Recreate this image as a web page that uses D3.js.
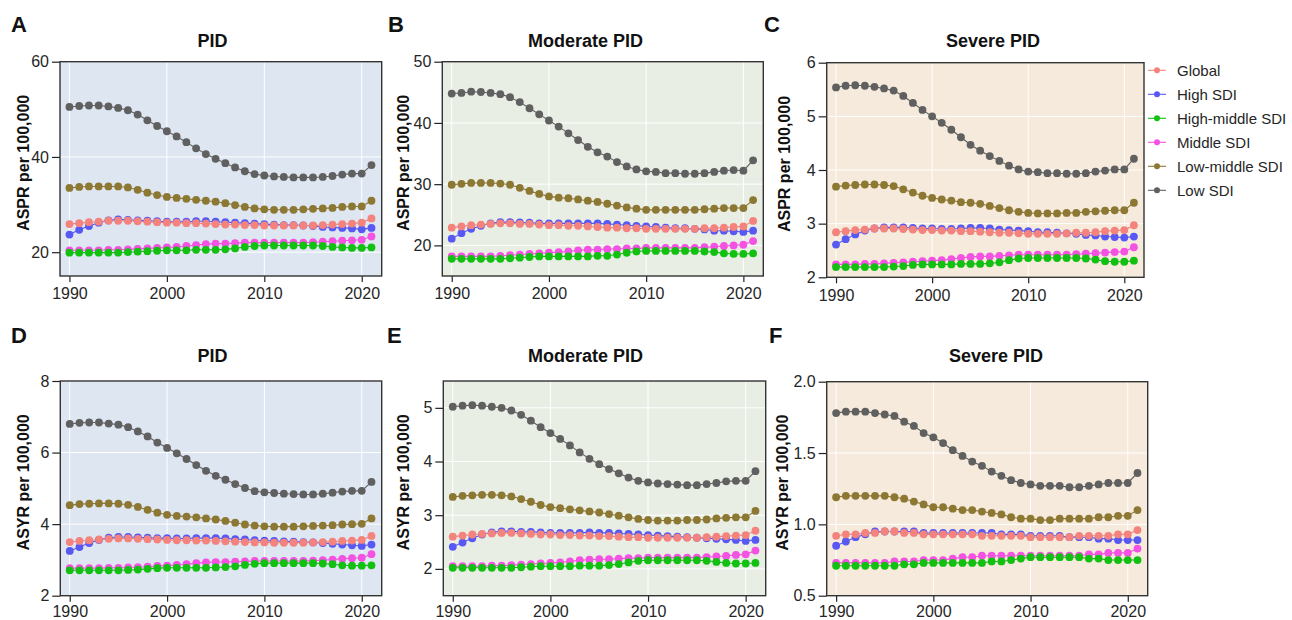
<!DOCTYPE html>
<html>
<head>
<meta charset="utf-8">
<script src="https://cdn.jsdelivr.net/npm/d3@7"></script>
<style>
html,body{margin:0;padding:0;background:#fff;}
svg{display:block;font-family:"Liberation Sans",Arial,sans-serif;}
</style>
</head>
<body>
<svg id="chart" width="1292" height="620"></svg>
<script>
const years = [1990,1991,1992,1993,1994,1995,1996,1997,1998,1999,2000,2001,2002,2003,2004,2005,2006,2007,2008,2009,2010,2011,2012,2013,2014,2015,2016,2017,2018,2019,2020,2021];
const seriesNames = ["Global","High SDI","High-middle SDI","Middle SDI","Low-middle SDI","Low SDI"];
const seriesColors = ["#f4837d","#5858f2","#12c012","#f352e2","#8c7833","#606060"];

// Panel A: ASPR, PID
const A_global = [25.9,26.1,26.3,26.4,26.6,26.6,26.6,26.5,26.4,26.3,26.2,26.2,26.1,26.1,26.0,25.9,25.8,25.8,25.7,25.7,25.6,25.6,25.6,25.6,25.6,25.6,25.7,25.8,25.9,26.0,26.2,27.1];
const A_high = [23.7,24.7,25.5,26.2,26.7,26.9,26.8,26.7,26.6,26.5,26.4,26.4,26.4,26.5,26.5,26.4,26.3,26.2,26.1,26.0,25.9,25.8,25.7,25.7,25.6,25.5,25.3,25.2,25.1,25.0,24.8,25.1];
const A_highmid = [19.9,19.9,19.9,19.9,19.9,19.9,20.0,20.1,20.2,20.3,20.4,20.4,20.4,20.5,20.5,20.5,20.6,20.8,21.1,21.3,21.4,21.4,21.4,21.4,21.4,21.4,21.3,21.1,21.0,20.9,20.9,21.0];
const A_middle = [20.4,20.4,20.4,20.4,20.5,20.5,20.6,20.7,20.8,20.9,21.0,21.1,21.3,21.5,21.7,21.8,21.8,21.9,22.0,22.0,22.0,22.0,22.0,22.0,22.0,22.1,22.2,22.3,22.4,22.5,22.6,23.3];
const A_lowmid = [33.5,33.7,33.8,33.8,33.8,33.8,33.6,33.1,32.5,32.0,31.6,31.4,31.2,31.0,30.8,30.6,30.3,29.9,29.5,29.2,29.0,28.9,28.9,28.9,29.0,29.1,29.2,29.3,29.5,29.6,29.6,30.8];
const A_low = [50.5,50.7,50.8,50.8,50.6,50.3,49.8,48.9,47.7,46.5,45.4,44.3,43.1,41.8,40.6,39.6,38.7,37.8,37.0,36.4,36.1,35.9,35.8,35.7,35.7,35.7,35.8,36.0,36.3,36.5,36.5,38.3];

// Panel B: ASPR, Moderate PID
const B_global = [22.9,23.1,23.3,23.4,23.5,23.6,23.6,23.5,23.5,23.4,23.3,23.3,23.2,23.2,23.1,23.0,22.9,22.9,22.8,22.8,22.7,22.7,22.7,22.7,22.7,22.7,22.8,22.8,22.9,23.0,23.1,24.0];
const B_high = [21.1,22.0,22.7,23.2,23.6,23.8,23.8,23.75,23.7,23.6,23.6,23.6,23.6,23.6,23.6,23.6,23.5,23.4,23.3,23.2,23.1,23.0,22.9,22.8,22.8,22.7,22.6,22.4,22.4,22.3,22.2,22.4];
const B_highmid = [17.8,17.8,17.8,17.8,17.8,17.8,17.9,18.0,18.1,18.2,18.2,18.2,18.2,18.2,18.2,18.3,18.3,18.5,18.8,19.0,19.1,19.1,19.1,19.1,19.1,19.1,19.0,18.9,18.7,18.6,18.6,18.7];
const B_middle = [18.2,18.2,18.2,18.2,18.2,18.3,18.4,18.5,18.6,18.7,18.8,18.9,19.0,19.2,19.3,19.3,19.4,19.4,19.5,19.5,19.6,19.6,19.6,19.6,19.6,19.6,19.7,19.8,19.9,20.0,20.1,20.7];
const B_lowmid = [29.9,30.05,30.2,30.2,30.2,30.1,29.9,29.4,28.9,28.4,28.0,27.8,27.7,27.5,27.3,27.1,26.8,26.5,26.2,26.0,25.8,25.8,25.8,25.8,25.8,25.8,25.9,26.0,26.1,26.1,26.1,27.4];
const B_low = [44.8,44.9,45.1,45.05,44.9,44.7,44.2,43.4,42.4,41.4,40.4,39.4,38.3,37.2,36.1,35.2,34.5,33.6,32.9,32.4,32.1,32.0,31.8,31.8,31.7,31.7,31.8,32.0,32.2,32.3,32.2,33.9];

// Panel C: ASPR, Severe PID
const C_global = [2.84,2.86,2.88,2.89,2.91,2.91,2.91,2.90,2.89,2.88,2.88,2.87,2.87,2.86,2.86,2.85,2.84,2.83,2.83,2.82,2.81,2.81,2.81,2.81,2.82,2.83,2.83,2.84,2.86,2.87,2.88,2.97];
const C_high = [2.61,2.71,2.80,2.87,2.91,2.93,2.93,2.93,2.92,2.91,2.91,2.90,2.90,2.91,2.92,2.92,2.91,2.89,2.88,2.87,2.86,2.84,2.84,2.83,2.82,2.81,2.79,2.78,2.76,2.75,2.74,2.76];
const C_highmid = [2.19,2.19,2.19,2.19,2.19,2.19,2.20,2.21,2.23,2.24,2.24,2.24,2.24,2.25,2.25,2.25,2.26,2.28,2.32,2.35,2.36,2.36,2.36,2.36,2.36,2.36,2.35,2.33,2.30,2.29,2.29,2.31];
const C_middle = [2.24,2.24,2.24,2.25,2.25,2.26,2.27,2.28,2.29,2.30,2.31,2.32,2.34,2.36,2.38,2.39,2.39,2.40,2.41,2.42,2.42,2.42,2.42,2.42,2.42,2.43,2.44,2.45,2.46,2.47,2.48,2.56];
const C_lowmid = [3.69,3.71,3.72,3.73,3.73,3.72,3.70,3.64,3.58,3.52,3.48,3.45,3.43,3.40,3.39,3.37,3.33,3.29,3.25,3.22,3.20,3.19,3.19,3.19,3.20,3.20,3.22,3.23,3.24,3.25,3.25,3.39];
const C_low = [5.54,5.57,5.58,5.57,5.55,5.52,5.48,5.38,5.25,5.12,5.00,4.88,4.75,4.61,4.47,4.36,4.26,4.17,4.08,4.01,3.97,3.96,3.94,3.94,3.93,3.93,3.94,3.97,3.99,4.01,4.01,4.21];

// Panel D: ASYR, PID
const D_global = [3.50,3.53,3.55,3.57,3.59,3.60,3.60,3.59,3.58,3.57,3.56,3.55,3.55,3.54,3.54,3.53,3.52,3.51,3.50,3.49,3.49,3.48,3.48,3.48,3.48,3.49,3.50,3.51,3.53,3.54,3.56,3.67];
const D_high = [3.25,3.36,3.47,3.56,3.62,3.64,3.64,3.63,3.62,3.61,3.61,3.60,3.60,3.61,3.61,3.61,3.60,3.58,3.57,3.55,3.54,3.53,3.52,3.51,3.50,3.49,3.47,3.45,3.43,3.41,3.39,3.43];
const D_highmid = [2.71,2.71,2.71,2.71,2.71,2.71,2.72,2.73,2.75,2.77,2.78,2.78,2.78,2.78,2.78,2.79,2.80,2.82,2.86,2.89,2.91,2.91,2.91,2.91,2.91,2.91,2.90,2.88,2.85,2.84,2.84,2.85];
const D_middle = [2.77,2.77,2.77,2.77,2.78,2.78,2.79,2.80,2.81,2.83,2.84,2.86,2.88,2.91,2.93,2.94,2.94,2.95,2.96,2.97,2.97,2.97,2.97,2.97,2.97,2.98,2.99,3.01,3.03,3.05,3.06,3.16];
const D_lowmid = [4.53,4.56,4.57,4.58,4.58,4.57,4.54,4.48,4.40,4.32,4.26,4.23,4.21,4.19,4.16,4.13,4.09,4.04,3.99,3.96,3.94,3.93,3.93,3.93,3.94,3.95,3.96,3.97,3.99,4.00,4.01,4.16];
const D_low = [6.80,6.83,6.84,6.84,6.81,6.78,6.71,6.59,6.45,6.28,6.13,5.98,5.82,5.65,5.49,5.35,5.24,5.12,5.01,4.92,4.89,4.87,4.85,4.84,4.83,4.83,4.85,4.88,4.91,4.93,4.93,5.18];

// Panel E: ASYR, Moderate PID
const E_global = [2.60,2.62,2.64,2.65,2.66,2.67,2.67,2.66,2.65,2.64,2.64,2.63,2.63,2.62,2.62,2.61,2.61,2.60,2.59,2.59,2.58,2.58,2.58,2.58,2.58,2.58,2.59,2.60,2.61,2.62,2.63,2.71];
const E_high = [2.41,2.49,2.57,2.64,2.68,2.70,2.70,2.69,2.69,2.68,2.67,2.67,2.67,2.67,2.68,2.67,2.67,2.66,2.65,2.64,2.63,2.62,2.61,2.60,2.59,2.58,2.57,2.56,2.55,2.54,2.52,2.54];
const E_highmid = [2.02,2.02,2.02,2.02,2.02,2.02,2.02,2.03,2.04,2.05,2.05,2.05,2.05,2.06,2.06,2.06,2.07,2.09,2.12,2.15,2.16,2.16,2.16,2.16,2.16,2.16,2.15,2.13,2.11,2.10,2.10,2.11];
const E_middle = [2.05,2.05,2.05,2.05,2.06,2.06,2.07,2.08,2.09,2.10,2.11,2.12,2.14,2.16,2.17,2.18,2.18,2.19,2.20,2.20,2.21,2.21,2.21,2.21,2.21,2.21,2.22,2.23,2.24,2.26,2.27,2.34];
const E_lowmid = [3.34,3.36,3.37,3.38,3.38,3.37,3.35,3.30,3.25,3.19,3.15,3.13,3.11,3.09,3.07,3.05,3.02,2.99,2.96,2.93,2.91,2.90,2.90,2.90,2.91,2.91,2.92,2.94,2.95,2.96,2.96,3.08];
const E_low = [5.02,5.04,5.05,5.04,5.02,5.00,4.95,4.87,4.76,4.64,4.53,4.42,4.30,4.17,4.05,3.95,3.86,3.78,3.70,3.64,3.61,3.59,3.58,3.57,3.56,3.56,3.58,3.60,3.63,3.64,3.64,3.82];

// Panel F: ASYR, Severe PID
const F_global = [0.92,0.93,0.93,0.94,0.94,0.95,0.95,0.94,0.94,0.93,0.93,0.93,0.93,0.93,0.93,0.92,0.92,0.92,0.92,0.92,0.91,0.91,0.91,0.91,0.91,0.92,0.92,0.92,0.92,0.93,0.93,0.96];
const F_high = [0.85,0.88,0.91,0.93,0.95,0.95,0.95,0.95,0.95,0.94,0.94,0.94,0.94,0.94,0.94,0.94,0.94,0.93,0.93,0.93,0.92,0.92,0.92,0.92,0.91,0.91,0.91,0.90,0.90,0.89,0.89,0.89];
const F_highmid = [0.71,0.71,0.71,0.71,0.71,0.71,0.71,0.72,0.72,0.73,0.73,0.73,0.73,0.73,0.73,0.73,0.74,0.74,0.75,0.76,0.77,0.77,0.77,0.77,0.77,0.77,0.76,0.76,0.75,0.75,0.75,0.75];
const F_middle = [0.73,0.73,0.73,0.73,0.73,0.73,0.74,0.74,0.74,0.75,0.75,0.75,0.76,0.77,0.77,0.78,0.78,0.78,0.78,0.78,0.78,0.78,0.78,0.78,0.78,0.78,0.79,0.79,0.80,0.80,0.80,0.83];
const F_lowmid = [1.19,1.20,1.20,1.20,1.20,1.20,1.19,1.18,1.16,1.14,1.12,1.12,1.11,1.10,1.10,1.09,1.08,1.07,1.05,1.04,1.04,1.03,1.03,1.04,1.04,1.04,1.04,1.05,1.05,1.06,1.06,1.10];
const F_low = [1.78,1.79,1.79,1.79,1.78,1.77,1.76,1.72,1.69,1.64,1.61,1.57,1.52,1.48,1.44,1.41,1.37,1.34,1.31,1.29,1.28,1.27,1.27,1.27,1.26,1.26,1.27,1.28,1.29,1.29,1.29,1.36];

const xTicks = [1990,2000,2010,2020];
const A_yTicks = [20,40,60];
const B_yTicks = [20,30,40,50];
const C_yTicks = [2,3,4,5,6];
const D_yTicks = [2,4,6,8];
const E_yTicks = [2,3,4,5];
const F_yTicks = [0.5,1.0,1.5,2.0];

const panels = [
  {letter:"A", title:"PID", ylab:"ASPR per 100,000", series:[A_global,A_high,A_highmid,A_middle,A_lowmid,A_low], dom:[15,60], ticks:A_yTicks, fmt:d3.format("d"),
   box:{l:60,r:381.7,t:61.7,b:276}, bg:"#dee6f2", lx:11, ly:32, ytx:28.5, tx:212.5, ty:46.7, xpad:6},
  {letter:"B", title:"Moderate PID", ylab:"ASPR per 100,000", series:[B_global,B_high,B_highmid,B_middle,B_lowmid,B_low], dom:[15,50], ticks:B_yTicks, fmt:d3.format("d"),
   box:{l:442.3,r:763.3,t:61.7,b:276}, bg:"#e9eee5", lx:388, ly:32, ytx:408.5, tx:585.5, ty:46.7, xpad:6},
  {letter:"C", title:"Severe PID", ylab:"ASPR per 100,000", series:[C_global,C_high,C_highmid,C_middle,C_lowmid,C_low], dom:[2,6], ticks:C_yTicks, fmt:d3.format("d"),
   box:{l:826.7,r:1144,t:62.7,b:277.3}, bg:"#f5eadb", lx:764, ly:32, ytx:790, tx:993, ty:46.7, xpad:6},
  {letter:"D", title:"PID", ylab:"ASYR per 100,000", series:[D_global,D_high,D_highmid,D_middle,D_lowmid,D_low], dom:[2,8], ticks:D_yTicks, fmt:d3.format("d"),
   box:{l:60.3,r:381.7,t:381,b:595.7}, bg:"#dee6f2", lx:11, ly:343, ytx:28.5, tx:212.5, ty:361.7, xpad:3.5},
  {letter:"E", title:"Moderate PID", ylab:"ASYR per 100,000", series:[E_global,E_high,E_highmid,E_middle,E_lowmid,E_low], dom:[1.5,5.5], ticks:E_yTicks, fmt:d3.format("d"),
   box:{l:443.3,r:765.7,t:381,b:595.7}, bg:"#e9eee5", lx:387, ly:343, ytx:408.5, tx:585.5, ty:361.7, xpad:3.5},
  {letter:"F", title:"Severe PID", ylab:"ASYR per 100,000", series:[F_global,F_high,F_highmid,F_middle,F_lowmid,F_low], dom:[0.5,2.0], ticks:F_yTicks, fmt:d3.format(".1f"),
   box:{l:826.7,r:1147.7,t:381.7,b:595.7}, bg:"#f5eadb", lx:769, ly:343, ytx:788, tx:996, ty:361.7, xpad:3.5}
];

const svg = d3.select("#chart");
const textCol = "#262626";

panels.forEach(p => {
  const b = p.box;
  const x = d3.scaleLinear().domain([1989.03, 2022.05]).range([b.l, b.r]);
  const y = d3.scaleLinear().domain(p.dom).range([b.b, b.t]);
  const g = svg.append("g");

  g.append("rect").attr("x", b.l).attr("y", b.t).attr("width", b.r - b.l).attr("height", b.b - b.t).attr("fill", p.bg);

  // grid
  g.append("g").selectAll("line").data(xTicks).join("line")
    .attr("x1", d => x(d)).attr("x2", d => x(d)).attr("y1", b.t).attr("y2", b.b)
    .attr("stroke", "#ffffff").attr("stroke-width", 1);
  g.append("g").selectAll("line").data(p.ticks).join("line")
    .attr("x1", b.l).attr("x2", b.r).attr("y1", d => y(d)).attr("y2", d => y(d))
    .attr("stroke", "#ffffff").attr("stroke-width", 1);

  // series (reverse order so Global on top)
  const order = [5,4,3,2,1,0];
  const line = d3.line().x((d,i) => x(years[i])).y(d => y(d));
  order.forEach(si => {
    g.append("path").attr("d", line(p.series[si])).attr("fill", "none")
      .attr("stroke", seriesColors[si]).attr("stroke-width", 1.1);
  });
  order.forEach(si => {
    g.append("g").selectAll("circle").data(p.series[si]).join("circle")
      .attr("cx", (d,i) => x(years[i])).attr("cy", d => y(d)).attr("r", 3.9)
      .attr("fill", seriesColors[si]);
  });

  // axes
  const xAxis = d3.axisBottom(x).tickValues(xTicks).tickFormat(d3.format("d")).tickSize(6).tickPadding(p.xpad);
  const ax = g.append("g").attr("transform", `translate(0,${b.b})`).call(xAxis);
  const yAxis = d3.axisLeft(y).tickValues(p.ticks).tickFormat(p.fmt).tickSize(8).tickPadding(3);
  const ay = g.append("g").attr("transform", `translate(${b.l},0)`).call(yAxis);
  [ax, ay].forEach(a => {
    a.select(".domain").remove();
    a.selectAll(".tick line").attr("stroke", "#222").attr("stroke-width", 1.2);
    a.selectAll(".tick text").attr("fill", textCol).style("font-size", "16px").style("font-family", "'Liberation Sans', Arial, sans-serif");
  });

  // border
  g.append("rect").attr("x", b.l).attr("y", b.t).attr("width", b.r - b.l).attr("height", b.b - b.t)
    .attr("fill", "none").attr("stroke", "#333").attr("stroke-width", 1.4);

  // title
  g.append("text").attr("x", p.tx).attr("y", p.ty).attr("text-anchor", "middle")
    .style("font-size", "18px").style("font-weight", "bold").attr("fill", "#111").text(p.title);
  // letter
  g.append("text").attr("x", p.lx).attr("y", p.ly)
    .style("font-size", "22px").style("font-weight", "bold").attr("fill", "#111").text(p.letter);
  // y label
  g.append("text").attr("transform", `translate(${p.ytx},${(b.t + b.b) / 2 - 6}) rotate(-90)`)
    .attr("text-anchor", "middle").style("font-size", "16px").style("font-weight", "bold").attr("fill", "#111").text(p.ylab);
});

// legend
const leg = svg.append("g");
seriesNames.forEach((n, i) => {
  const cy = 70.3 + i * 24;
  leg.append("line").attr("x1", 1148).attr("x2", 1166).attr("y1", cy).attr("y2", cy)
    .attr("stroke", seriesColors[i]).attr("stroke-width", 1.1);
  leg.append("circle").attr("cx", 1157).attr("cy", cy).attr("r", 3).attr("fill", seriesColors[i]);
  leg.append("text").attr("x", 1177).attr("y", cy).attr("dy", "0.35em")
    .style("font-size", "15px").attr("fill", textCol).text(n);
});
</script>
</body>
</html>
